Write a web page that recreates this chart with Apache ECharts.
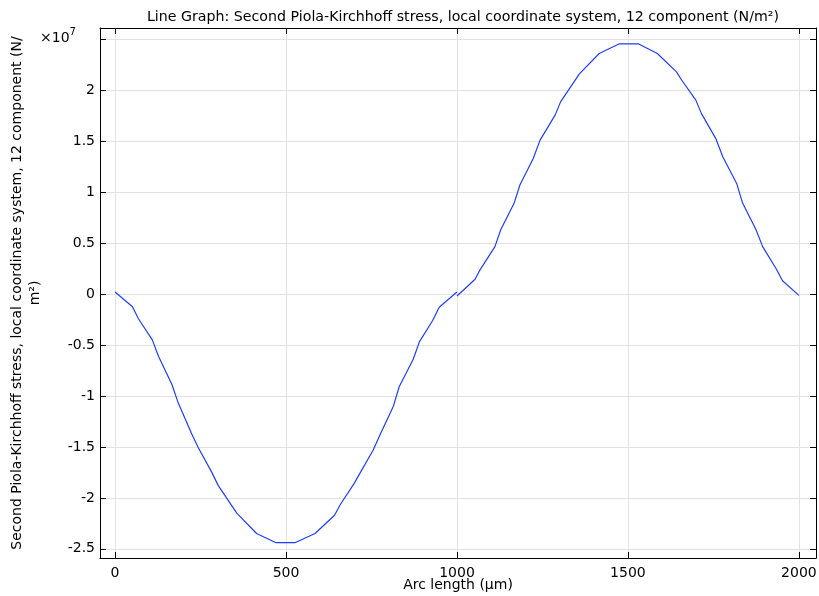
<!DOCTYPE html>
<html>
<head>
<meta charset="utf-8">
<script src="https://cdn.jsdelivr.net/npm/echarts@6/dist/echarts.min.js"></script>
<style>
  html, body { margin: 0; padding: 0; background: #fff; }
  #main { width: 819px; height: 596px; }
</style>
</head>
<body>
<div id="main"></div>
<script>
// arc length (um) and stress (x 1e7 N/m^2), two segments
var arcA = [0, 51, 68, 109, 127, 166, 185, 224, 244, 283, 302, 356, 414, 471, 526, 585, 642, 658, 699, 716, 755, 775, 814, 831, 872, 890, 929, 948, 1000];
var stressA = [0.02, -0.125, -0.24, -0.45, -0.61, -0.885, -1.07, -1.37, -1.51, -1.75, -1.88, -2.15, -2.35, -2.44, -2.44, -2.35, -2.17, -2.07, -1.86, -1.76, -1.53, -1.38, -1.10, -0.91, -0.64, -0.47, -0.26, -0.13, 0.02];

var arcB = [1000, 1053, 1067, 1111, 1128, 1167, 1184, 1223, 1243, 1287, 1303, 1358, 1416, 1475, 1530, 1586, 1642, 1657, 1699, 1715, 1757, 1777, 1818, 1835, 1874, 1894, 1933, 1952, 2000];
var stressB = [-0.02, 0.145, 0.235, 0.465, 0.63, 0.89, 1.07, 1.33, 1.51, 1.755, 1.885, 2.16, 2.36, 2.455, 2.455, 2.36, 2.18, 2.10, 1.90, 1.77, 1.525, 1.35, 1.085, 0.895, 0.635, 0.465, 0.25, 0.13, -0.013];

var pairs = function (xs, ys) {
    var res = [];
    for (var i = 0; i < xs.length; i++) {
        res.push([xs[i], ys[i]]);
    }
    return res;
};

var myChart = echarts.init(document.getElementById('main'));
var font = 'DejaVu Sans';
var lineColor = '#1f3dff';

var xRange = { min: -44, max: 2050, splitNumber: 4 };
var yRange = { min: -2.59, max: 2.61, splitNumber: 10 };

var option = {
    backgroundColor: '#fff',
    animation: false,
    textStyle: { fontFamily: font },
    title: {
        text: 'Line Graph: Second Piola-Kirchhoff stress, local coordinate system, 12 component (N/m\u00b2)',
        left: 458,
        top: 5,
        textAlign: 'center',
        textStyle: { fontFamily: font, fontSize: 14.2, fontWeight: 'normal', color: '#000' }
    },
    grid: { left: 100, right: 3, top: 28, bottom: 38, show: false, containLabel: false, outerBoundsMode: 'none' },
    graphic: [{
        type: 'text',
        left: 40,
        top: 27,
        style: {
            text: '{a|\u00d710}{b|7}',
            rich: {
                a: { fontFamily: font, fontSize: 14, fill: '#000', verticalAlign: 'bottom' },
                b: { fontFamily: font, fontSize: 10, fill: '#000', verticalAlign: 'top', padding: [0, 0, 8, 0] }
            }
        }
    }],
    xAxis: [{
        type: 'value',
        min: xRange.min,
        max: xRange.max,
        splitNumber: xRange.splitNumber,
        name: 'Arc length (\u00b5m)',
        nameLocation: 'middle',
        nameGap: 20,
        nameMoveOverlap: false,
        nameTextStyle: { fontFamily: font, fontSize: 14, color: '#000' },
        axisLine: { show: true, onZero: false, lineStyle: { color: '#000', width: 1 } },
        axisTick: { show: true, inside: true, length: 6, lineStyle: { color: '#000' } },
        axisLabel: {
            showMinLabel: false, showMaxLabel: false,
            fontFamily: font, fontSize: 14, color: '#000', margin: 8,
            formatter: function (v) { return String(v); }
        },
        splitLine: { show: true, lineStyle: { color: '#e2e2e2', width: 1 } }
    }, {
        type: 'value',
        position: 'top',
        min: xRange.min,
        max: xRange.max,
        splitNumber: xRange.splitNumber,
        axisLine: { show: true, onZero: false, lineStyle: { color: '#000', width: 1 } },
        axisTick: { show: true, inside: true, length: 6, lineStyle: { color: '#000' } },
        axisLabel: { show: false },
        splitLine: { show: false }
    }],
    yAxis: [{
        type: 'value',
        min: yRange.min,
        max: yRange.max,
        splitNumber: yRange.splitNumber,
        name: 'Second Piola-Kirchhoff stress, local coordinate system, 12 component (N/\nm\u00b2)',
        nameLocation: 'middle',
        nameRotate: 90,
        nameGap: 56,
        nameMoveOverlap: false,
        nameTextStyle: { fontFamily: font, fontSize: 14, color: '#000', lineHeight: 18 },
        axisLine: { show: true, onZero: false, lineStyle: { color: '#000', width: 1 } },
        axisTick: { show: true, inside: true, length: 6, lineStyle: { color: '#000' } },
        axisLabel: {
            showMinLabel: false,
            showMaxLabel: false,
            fontFamily: font,
            fontSize: 14,
            color: '#000',
            margin: 5,
            formatter: function (v) {
                if (v > 2.4) return '';
                return String(Math.round(v * 10) / 10);
            }
        },
        splitLine: { show: true, lineStyle: { color: '#e2e2e2', width: 1 } }
    }, {
        type: 'value',
        position: 'right',
        min: yRange.min,
        max: yRange.max,
        splitNumber: yRange.splitNumber,
        axisLine: { show: true, onZero: false, lineStyle: { color: '#000', width: 1 } },
        axisTick: { show: true, inside: true, length: 6, lineStyle: { color: '#000' } },
        axisLabel: { show: false },
        splitLine: { show: false }
    }],
    series: [{
        type: 'line',
        data: pairs(arcA, stressA),
        showSymbol: false,
        lineStyle: { color: lineColor, width: 1.2 },
        itemStyle: { color: lineColor }
    }, {
        type: 'line',
        data: pairs(arcB, stressB),
        showSymbol: false,
        lineStyle: { color: lineColor, width: 1.2 },
        itemStyle: { color: lineColor }
    }]
};

myChart.setOption(option);
</script>
</body>
</html>
